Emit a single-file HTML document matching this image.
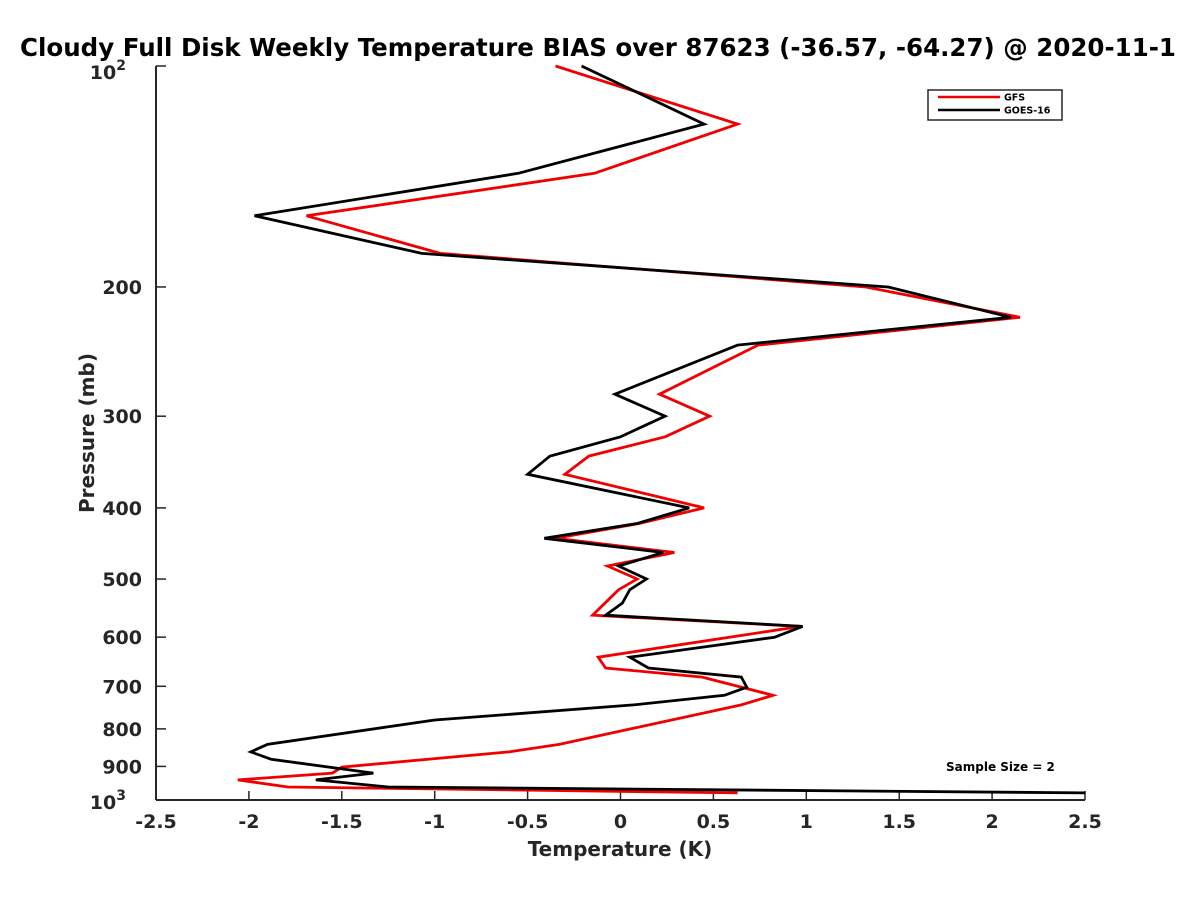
<!DOCTYPE html>
<html><head><meta charset="utf-8"><style>
body{margin:0;background:#fff}
svg{display:block;font-family:"DejaVu Sans","Liberation Sans",sans-serif;font-weight:bold}
</style></head><body>
<svg id="chart" width="1200" height="900">
<text x="20" y="56" font-size="24.5" fill="#000">Cloudy Full Disk Weekly Temperature BIAS over 87623 (-36.57, -64.27) @ 2020-11-1</text>
<g id="axes"></g>
<g id="series"></g>
<g>
<rect x="928" y="90" width="134" height="30" fill="#fff" stroke="#262626" stroke-width="1.5"/>
<line x1="938" y1="97" x2="1000" y2="97" stroke="#f00000" stroke-width="2.5"/>
<text x="1004" y="100.5" font-size="9.5" fill="#000">GFS</text>
<line x1="938" y1="110" x2="1000" y2="110" stroke="#000" stroke-width="2.5"/>
<text x="1004" y="113.5" font-size="9.5" fill="#000">GOES-16</text>
</g>
<text x="946" y="771" font-size="12" fill="#000">Sample Size = 2</text>
<text x="620" y="856" font-size="20" fill="#262626" text-anchor="middle">Temperature (K)</text>
<text transform="translate(94,433) rotate(-90)" font-size="20" fill="#262626" text-anchor="middle">Pressure (mb)</text>
</svg>
<script>
const xTicks = [-2.5,-2,-1.5,-1,-0.5,0,0.5,1,1.5,2,2.5];
const xTickLabels = ["-2.5","-2","-1.5","-1","-0.5","0","0.5","1","1.5","2","2.5"];
const yTicks = [100,200,300,400,500,600,700,800,900,1000];
const gfsP = [100,120,140,160,180,200,220,240,280,300,320,340,360,400,420,440,460,480,500,517,560,580,639,661,680,720,742,840,860,902,919,939,960,978];
const gfsT = [-0.35,0.63,-0.14,-1.69,-0.97,1.32,2.15,0.74,0.21,0.48,0.24,-0.17,-0.30,0.45,0.10,-0.35,0.29,-0.07,0.09,-0.01,-0.15,0.97,-0.12,-0.08,0.44,0.82,0.65,-0.33,-0.60,-1.50,-1.55,-2.06,-1.79,0.63];
const goesP = [100,120,140,160,180,200,220,240,280,300,320,340,360,400,420,440,460,480,500,517,539,560,580,600,639,661,680,702,720,742,778,840,860,880,919,939,960,978];
const goesT = [-0.21,0.45,-0.55,-1.97,-1.07,1.44,2.10,0.63,-0.03,0.24,0.00,-0.38,-0.50,0.37,0.09,-0.41,0.23,-0.01,0.14,0.05,0.01,-0.08,0.98,0.83,0.05,0.15,0.65,0.68,0.56,0.07,-1.00,-1.90,-1.99,-1.88,-1.33,-1.64,-1.25,2.50];

const X0=156,X1=1085,Y0=66,Y1=800;
const xs = t => X0 + (t+2.5)/5*(X1-X0);
const ys = p => Y0 + (Math.log10(p)-2)*(Y1-Y0);
const NS="http://www.w3.org/2000/svg";
const axes=document.getElementById('axes'), ser=document.getElementById('series');
function mk(tag,attrs,parent){const e=document.createElementNS(NS,tag);for(const k in attrs)e.setAttribute(k,attrs[k]);parent.appendChild(e);return e;}
const C="#262626";
let l=mk('line',{x1:X0,y1:Y0,x2:X0,y2:Y1,stroke:C,'stroke-width':2},axes);


l=mk('line',{x1:X0,y1:Y1,x2:X1,y2:Y1,stroke:C,'stroke-width':2},axes);


xTicks.forEach((t,i)=>{
  const x=xs(t);
  const tk=mk('line',{x1:x,y1:Y1,x2:x,y2:Y1-9,stroke:C,'stroke-width':1.5},axes);
  
  
  const tx=mk('text',{x:x,y:828,'font-size':19,fill:C,'text-anchor':'middle'},axes);
  tx.textContent=xTickLabels[i];
  
  
});
yTicks.forEach(p=>{
  const y=ys(p);
  const tk=mk('line',{x1:X0,y1:y,x2:X0+10,y2:y,stroke:C,'stroke-width':1.5},axes);
  
  
  const tx=mk('text',{x:142,y:y+7,'font-size':19,fill:C,'text-anchor':'end'},axes);
  if(p===100||p===1000){
    tx.textContent='10';
    const s=mk('tspan',{dy:-9,'font-size':14},tx);s.textContent=p===100?'2':'3';
    tx.setAttribute('x',126);
    tx.setAttribute('text-anchor','end');
    tx.setAttribute('y', p===100? y+13 : y+9);
  } else tx.textContent=String(p);
  
  
});
function line(P,T,color,name){
  const d=P.map((p,i)=>(i?'L':'M')+xs(T[i]).toFixed(1)+','+ys(p).toFixed(1)).join('');
  const e=mk('path',{d:d,fill:'none',stroke:color,'stroke-width':2.8,'stroke-linejoin':'miter'},ser);
  
  
}
line(gfsP,gfsT,'#f00000','gfs-line');
line(goesP,goesT,'#000000','goes16-line');
</script>
</body></html>
